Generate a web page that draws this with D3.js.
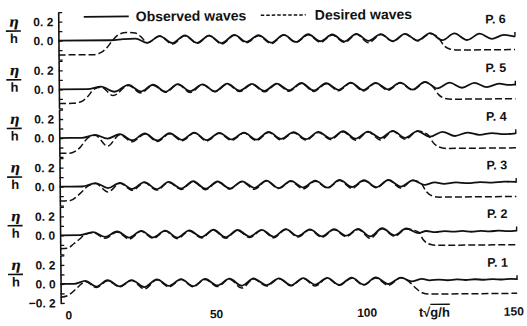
<!DOCTYPE html>
<html>
<head>
<meta charset="utf-8">
<script src="https://cdn.jsdelivr.net/npm/d3@7"></script>
<style>
  body { margin: 0; background: #fff; }
  svg { display: block; }
  text { font-family: "Liberation Sans", Arial, sans-serif; fill: #111; }
</style>
</head>
<body>
<div id="chart"></div>
<script>
// panels, top to bottom
const panels = ["P. 6", "P. 5", "P. 4", "P. 3", "P. 2", "P. 1"];
const xTicks = [0, 50, 100, 150];
const yTicks = [-0.2, -0.1, 0, 0.1, 0.2, 0.3];
const legendItems = ["Observed waves", "Desired waves"];

// [t*sqrt(g/h), eta/h] (crests / troughs)
const obs6 = [[-1.5,0],[16,0],[20,0.01],[24.1,0.015],[28,-0.03],[32.1,0.04],[36.3,-0.035],[40.5,0.045],[44.5,-0.035],[48.5,0.04],[52.7,-0.04],[56.9,0.045],[60.9,-0.03],[64.9,0.04],[69.1,-0.04],[73.3,0.04],[77.3,-0.035],[81.4,0.045],[85.4,-0.03],[89.4,0.04],[93.4,-0.035],[97.4,0.045],[101.4,-0.03],[105.5,0.04],[109.5,-0.035],[113.5,0.04],[117.7,-0.03],[121.9,0.045],[125.9,-0.03],[129.9,0.04],[134.1,-0.03],[138.3,0.035],[142.3,-0.02],[146.3,0.02],[150,0]];
const des6 = [[-1.5,-0.15],[10,-0.15],[12.5,-0.13],[14.5,-0.08],[16.5,0],[18.5,0.06],[21,0.08],[24,0.075],[26,0.03],[28,-0.03],[32.1,0.04],[36.3,-0.045],[40.5,0.04],[44.5,-0.04],[48.5,0.04],[52.7,-0.05],[56.9,0.04],[60.9,-0.04],[64.9,0.035],[69.1,-0.05],[73.3,0.04],[77.3,-0.04],[81.4,0.04],[85.4,-0.04],[89.4,0.035],[93.4,-0.045],[97.4,0.04],[101.4,-0.05],[105.5,0.035],[109.5,-0.04],[113.5,0.04],[117.7,-0.035],[121.9,0.04],[124.5,0],[126.5,-0.09],[128.5,-0.125],[131,-0.135],[150,-0.135]];

const obs5 = [[-1.5,0],[8,0],[12.5,0.025],[17,-0.03],[21.6,0.04],[25.7,-0.03],[29.8,0.04],[33.9,-0.035],[38,0.045],[42.1,-0.03],[46.2,0.04],[50.3,-0.035],[54.4,0.045],[58.5,-0.03],[62.6,0.04],[66.7,-0.035],[70.8,0.04],[74.9,-0.03],[79,0.045],[83.1,-0.035],[87.2,0.04],[91.3,-0.03],[95.4,0.045],[99.5,-0.035],[103.6,0.04],[107.7,-0.03],[111.8,0.04],[115.9,-0.035],[120,0.045],[124.1,-0.025],[128.2,0.035],[132.3,-0.02],[136.4,0.03],[140.5,-0.015],[144.6,0.02],[148,0.005],[150,0.01]];
const des5 = [[-1.5,-0.15],[3,-0.148],[6,-0.13],[8,-0.08],[10.2,0],[12.5,0.02],[16.5,-0.07],[21.6,0.035],[25.7,-0.045],[29.8,0.035],[33.9,-0.04],[38,0.04],[42.1,-0.045],[46.2,0.035],[50.3,-0.04],[54.4,0.04],[58.5,-0.04],[62.6,0.035],[66.7,-0.045],[70.8,0.035],[74.9,-0.04],[79,0.04],[83.1,-0.045],[87.2,0.035],[91.3,-0.04],[95.4,0.04],[99.5,-0.045],[103.6,0.035],[107.7,-0.04],[111.8,0.035],[115.9,-0.04],[120,0.04],[122.5,0],[124.5,-0.09],[126.5,-0.13],[129,-0.14],[150,-0.14]];

const obs4 = [[-1.5,0],[6,0],[10.4,0.03],[14.5,-0.01],[18.6,0.035],[22.7,-0.03],[26.9,0.04],[31,-0.035],[35.1,0.04],[39.2,-0.03],[43.3,0.045],[47.4,-0.035],[51.6,0.04],[55.7,-0.03],[59.8,0.04],[63.9,-0.035],[68,0.045],[72.1,-0.03],[76.3,0.04],[80.4,-0.035],[84.5,0.04],[88.6,-0.03],[92.7,0.045],[96.8,-0.035],[101,0.04],[105.1,-0.03],[109.2,0.045],[113.3,-0.03],[117.4,0.04],[121.5,-0.02],[125.7,0.03],[129.8,-0.015],[133.9,0.02],[138,-0.005],[142.1,0.012],[146.1,0],[150,0.008]];
const des4 = [[-1.5,-0.16],[2,-0.16],[5.4,-0.1],[8,0],[10.4,0.025],[14.5,-0.09],[18.6,0.03],[22.7,-0.045],[26.9,0.035],[31,-0.045],[35.1,0.035],[39.2,-0.04],[43.3,0.04],[47.4,-0.045],[51.6,0.035],[55.7,-0.04],[59.8,0.035],[63.9,-0.045],[68,0.04],[72.1,-0.04],[76.3,0.035],[80.4,-0.045],[84.5,0.035],[88.6,-0.04],[92.7,0.04],[96.8,-0.05],[101,0.035],[105.1,-0.05],[109.2,0.04],[113.3,-0.045],[117.4,0.04],[120.9,0],[122.5,-0.08],[124.5,-0.13],[127,-0.145],[150,-0.145]];

const obs3 = [[-1.5,0],[6,0],[10.4,0.035],[14.5,-0.02],[18.5,0.035],[22.6,-0.03],[26.6,0.04],[30.7,-0.035],[34.7,0.04],[38.8,-0.03],[42.8,0.045],[46.9,-0.035],[50.9,0.04],[55,-0.035],[59,0.04],[63.1,-0.03],[67.1,0.045],[71.2,-0.035],[75.2,0.04],[79.3,-0.03],[83.3,0.04],[87.4,-0.035],[91.4,0.045],[95.5,-0.03],[99.5,0.04],[103.6,-0.035],[107.6,0.04],[111.7,-0.03],[115.7,0.035],[119.5,-0.015],[123,0.01],[126,-0.005],[130,0.008],[134,0],[138,0.01],[142,0.003],[146,0.012],[150,0.008]];
const des3 = [[-1.5,-0.15],[1.5,-0.15],[5.4,-0.07],[7.7,0],[10.4,0.03],[14.5,-0.06],[18.5,0.03],[22.6,-0.045],[26.6,0.035],[30.7,-0.045],[34.7,0.035],[38.8,-0.04],[42.8,0.04],[46.9,-0.045],[50.9,0.035],[55,-0.04],[59,0.035],[63.1,-0.045],[67.1,0.04],[71.2,-0.04],[75.2,0.035],[79.3,-0.045],[83.3,0.035],[87.4,-0.04],[91.4,0.04],[95.5,-0.045],[99.5,0.035],[103.6,-0.04],[107.6,0.04],[111.7,-0.045],[115.7,0.035],[118.5,0],[120,-0.08],[122,-0.13],[124.5,-0.145],[150,-0.145]];

const obs2 = [[-1.5,0],[5,0],[9.4,0.03],[13.4,-0.02],[17.4,0.035],[21.4,-0.03],[25.4,0.04],[29.4,-0.03],[33.4,0.04],[37.4,-0.035],[41.4,0.04],[45.4,-0.03],[49.4,0.045],[53.4,-0.035],[57.4,0.04],[61.4,-0.03],[65.4,0.04],[69.4,-0.035],[73.4,0.045],[77.4,-0.03],[81.4,0.04],[85.4,-0.035],[89.4,0.04],[93.4,-0.03],[97.4,0.04],[101.4,-0.04],[105.4,0.045],[109.4,-0.03],[113.4,0.04],[117.3,-0.01],[120,0.012],[123,0],[126,0.01],[129,0.002],[132,0.01],[135,0],[138,0.008],[141,0.002],[144,0.01],[147,0.003],[150,0.008]];
const des2 = [[-1.5,-0.14],[1,-0.135],[3,-0.09],[5,-0.04],[6.4,0],[9.4,0.025],[13.4,-0.035],[17.4,0.03],[21.4,-0.045],[25.4,0.035],[29.4,-0.04],[33.4,0.035],[37.4,-0.045],[41.4,0.035],[45.4,-0.04],[49.4,0.04],[53.4,-0.045],[57.4,0.035],[61.4,-0.04],[65.4,0.035],[69.4,-0.045],[73.4,0.04],[77.4,-0.04],[81.4,0.035],[85.4,-0.045],[89.4,0.035],[93.4,-0.04],[97.4,0.035],[101.4,-0.06],[105.4,0.04],[109.4,-0.04],[113.4,0.035],[117.5,0],[119,-0.08],[121.5,-0.13],[124,-0.14],[150,-0.14]];

const obs1 = [[-1.5,0],[3,0],[6.7,0.03],[10.4,-0.03],[14.1,0.035],[18.1,-0.03],[22.1,0.035],[26.3,-0.04],[30.5,0.04],[34.5,-0.03],[38.5,0.04],[42.5,-0.035],[46.5,0.04],[50.5,-0.03],[54.6,0.04],[58.6,-0.035],[62.6,0.04],[66.8,-0.03],[71,0.04],[75,-0.035],[79,0.04],[83,-0.03],[87,0.04],[91,-0.035],[95.1,0.04],[99.1,-0.035],[103.1,0.04],[107.3,-0.03],[111.5,0.035],[115,-0.005],[118.5,0.02],[121,0.005],[124,0.012],[127,0.004],[130,0.012],[133,0.005],[136,0.012],[139,0.006],[142,0.012],[145,0.007],[148,0.012],[150,0.01]];
const des1 = [[-1.5,-0.14],[1,-0.12],[3.7,-0.05],[5.4,0],[6.7,0.025],[10.4,-0.04],[14.1,0.03],[18.1,-0.035],[22.1,0.03],[26.3,-0.06],[30.5,0.035],[34.5,-0.04],[38.5,0.035],[42.5,-0.04],[46.5,0.035],[50.5,-0.04],[54.6,0.035],[58.6,-0.06],[62.6,0.035],[66.8,-0.04],[71,0.035],[75,-0.04],[79,0.035],[83,-0.045],[87,0.035],[91,-0.04],[95.1,0.035],[99.1,-0.04],[103.1,0.035],[107.3,-0.045],[111.5,0.035],[114.2,-0.01],[116.5,-0.08],[118.5,-0.125],[121,-0.14],[150,-0.14]];

const observed = [obs6, obs5, obs4, obs3, obs2, obs1];
const desired = [des6, des5, des4, des3, des2, des1];

const width = 527, height = 326;
const ink = "#111";

const svg = d3.select("#chart").append("svg")
    .attr("width", width)
    .attr("height", height);

// scanned figure is slightly tilted
const chart = svg.append("g").attr("transform", "rotate(-0.5 60 160)");

const x = d3.scaleLinear().domain([0, 150]).range([64, 516]);
const rows = d3.scalePoint().domain(panels).range([40.7, 284]);
const pxPerUnit = 95;

const fmt = d => d3.format(".1f")(d).replace(".", ". ");

panels.forEach((p, i) => {
    const zero = rows(p);
    const y = d3.scaleLinear().domain([-0.2, 0.3])
        .range([zero + 0.2 * pxPerUnit, zero - 0.3 * pxPerUnit]);
    const last = i === panels.length - 1;
    const shown = last ? [-0.2, 0, 0.2] : [0, 0.2];

    const g = chart.append("g");

    const yAxis = g.append("g")
        .attr("transform", `translate(${x(-1.5)},0)`)
        .call(d3.axisLeft(y).tickValues(yTicks).tickSize(-4).tickSizeOuter(0).tickPadding(5)
            .tickFormat(d => shown.some(s => Math.abs(s - d) < 1e-9) ? fmt(d) : ""));
    yAxis.select(".domain").attr("stroke", ink).attr("stroke-width", 1.6);
    yAxis.selectAll(".tick line").attr("stroke", ink).attr("stroke-width", 1.3);
    yAxis.selectAll(".tick text")
        .attr("fill", ink)
        .style("font-size", "12px")
        .style("font-weight", "bold");

    const line = d3.line()
        .x(d => x(d[0]))
        .y(d => y(d[1]))
        .curve(d3.curveMonotoneX);

    g.append("path")
        .datum(desired[i])
        .attr("fill", "none")
        .attr("stroke", ink)
        .attr("stroke-width", 1.5)
        .attr("stroke-dasharray", "7,3")
        .attr("d", line);

    g.append("path")
        .datum(observed[i])
        .attr("fill", "none")
        .attr("stroke", ink)
        .attr("stroke-width", 1.8)
        .attr("d", line);

    // end mark of record
    g.append("line")
        .attr("x1", x(150)).attr("x2", x(150))
        .attr("y1", y(0)).attr("y2", y(0.05))
        .attr("stroke", ink).attr("stroke-width", 1.4);

    // eta / h label
    g.append("text")
        .attr("x", 15).attr("y", zero - 14.5)
        .attr("text-anchor", "middle")
        .style("font-family", "'DejaVu Serif', serif")
        .style("font-style", "italic")
        .style("font-weight", "bold")
        .style("font-size", "14px")
        .text("η");
    g.append("line")
        .attr("x1", 7).attr("x2", 22)
        .attr("y1", zero - 10).attr("y2", zero - 10)
        .attr("stroke", ink).attr("stroke-width", 1.6);
    g.append("text")
        .attr("x", 15).attr("y", zero + 2)
        .attr("text-anchor", "middle")
        .style("font-size", "13px")
        .style("font-weight", "bold")
        .text("h");

    g.append("text")
        .attr("x", 507).attr("y", zero - 13.5)
        .attr("text-anchor", "end")
        .style("font-size", "12.5px")
        .style("font-weight", "bold")
        .text(p);
});

// x axis labels only
const xAxis = chart.append("g")
    .attr("transform", "translate(0,305)")
    .call(d3.axisBottom(x).tickValues(xTicks).tickSize(0).tickPadding(6).tickFormat(d3.format("d")));
xAxis.select(".domain").remove();
xAxis.selectAll(".tick text")
    .attr("fill", ink)
    .attr("dx", d => d === 0 ? 3 : d === 150 ? -4 : 0)
    .style("font-size", "12px")
    .style("font-weight", "bold");

const xLab = chart.append("text")
    .attr("x", 433).attr("y", 320)
    .attr("text-anchor", "middle")
    .style("font-size", "13px")
    .style("font-weight", "bold");
xLab.append("tspan").text("t√");
xLab.append("tspan").style("text-decoration", "overline").text("g/h");

// legend
const legend = chart.append("g").attr("transform", "translate(85,17)");
const legendX = d3.scalePoint().domain(legendItems).range([0, 177]);
legendItems.forEach((name, i) => {
    const lg = legend.append("g").attr("transform", `translate(${legendX(name)},0)`);
    lg.append("line")
        .attr("x1", 0).attr("x2", 45)
        .attr("stroke", ink)
        .attr("stroke-width", i === 0 ? 1.8 : 1.5)
        .attr("stroke-dasharray", i === 0 ? null : "3.5,2");
    lg.append("text")
        .attr("x", i === 0 ? 52 : 54).attr("y", 5)
        .style("font-size", "14px")
        .style("font-weight", "bold")
        .text(name);
});
</script>
</body>
</html>
